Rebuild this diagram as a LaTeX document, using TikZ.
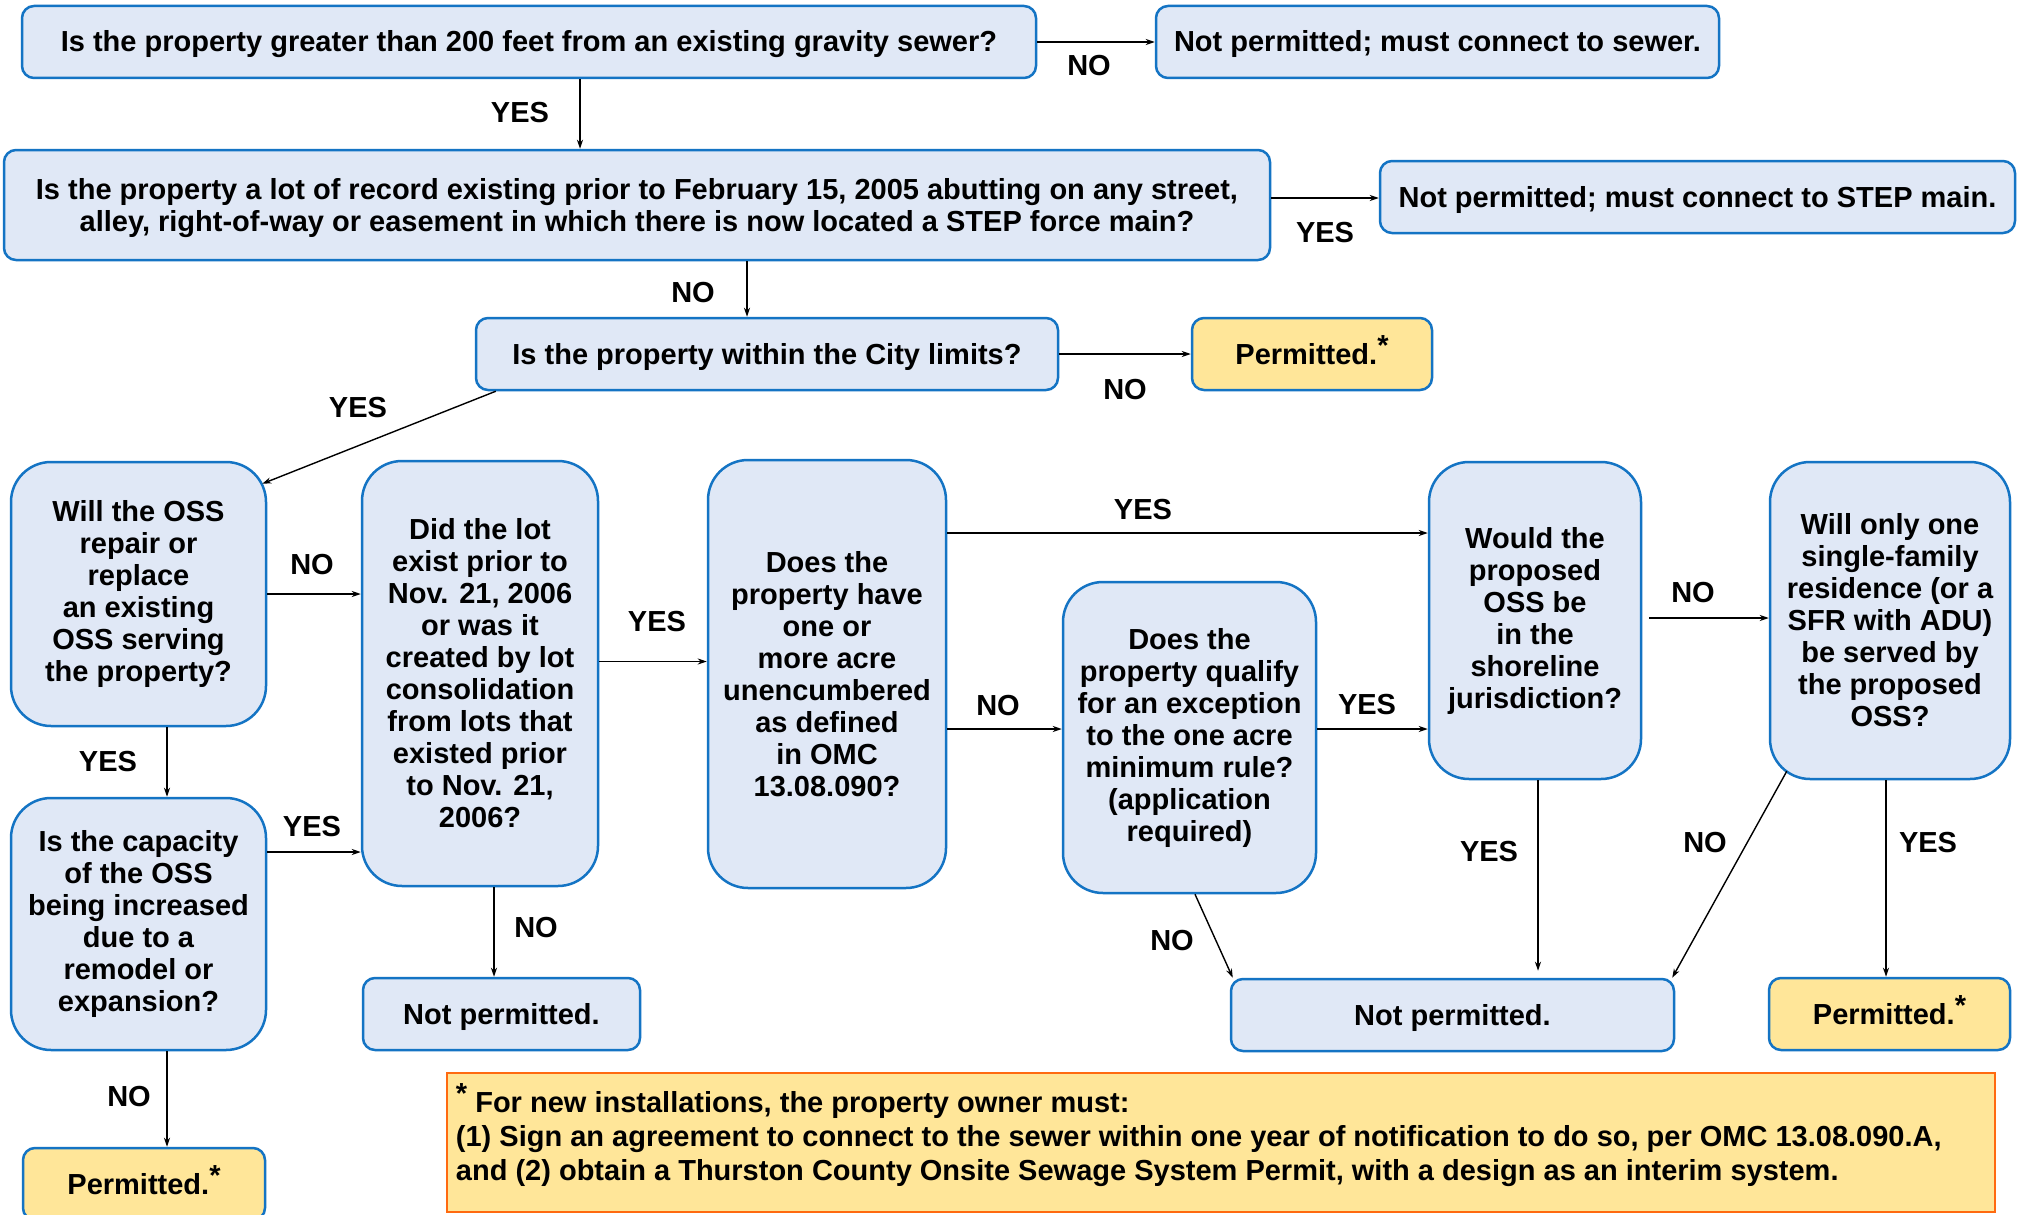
\documentclass[tikz,border=0pt]{standalone}
\usepackage{fontspec}
\setmainfont{Liberation Sans}
\usetikzlibrary{arrows.meta,calc}
\definecolor{bfill}{HTML}{E0E8F6}
\definecolor{bline}{HTML}{1474C4}
\definecolor{yfill}{HTML}{FFE699}
\definecolor{oline}{HTML}{FF6A10}
\newcommand{\myast}{\raisebox{0.3em}{*}}
\begin{document}
\begin{tikzpicture}[x=1pt,y=-1pt,
  every node/.style={font=\fontsize{29}{32}\selectfont\bfseries},
  qbox/.style={draw=bline,fill=bfill,line width=2.5pt,rounded corners=12pt,align=center,inner sep=0pt},
  onel/.style={text height=24pt,text depth=4pt},
  tallbox/.style={qbox,rounded corners=40pt},
  ybox/.style={qbox,fill=yfill},
  arr/.style={-{Stealth[length=9pt,width=6pt]},line width=1.4pt},
  lbl/.style={inner sep=0pt}]
\useasboundingbox[fill=white] (0,0) rectangle (2019,1215);

% top boxes
\node[qbox,onel,minimum width=1014pt,minimum height=72pt] (A) at (529,42) {Is the property greater than 200 feet from an existing gravity sewer?};
\node[qbox,onel,minimum width=563pt,minimum height=72pt] (B) at (1437.5,42) {Not permitted; must connect to sewer.};
\node[qbox,text height=56pt,text depth=4pt,minimum width=1266pt,minimum height=110pt] (C) at (637,205) {Is the property a lot of record existing prior to February 15, 2005 abutting on any street,\\alley, right-of-way or easement in which there is now located a STEP force main?};
\node[qbox,onel,minimum width=635pt,minimum height=72pt] (D) at (1697.5,197) {Not permitted; must connect to STEP main.};
\node[qbox,onel,minimum width=582pt,minimum height=72pt] (E) at (767,354) {Is the property within the City limits?};
\node[ybox,onel,minimum width=240pt,minimum height=72pt] (F) at (1312,354) {Permitted.\myast};

% tall boxes
\node[tallbox,minimum width=255pt,minimum height=264pt] (G) at (138.5,594) {Will the OSS\\repair or\\replace\\an existing\\OSS serving\\the property?};
\node[tallbox,minimum width=236pt,minimum height=425pt] (H) at (480,673.5) {Did the lot\\exist prior to\\Nov. 21, 2006\\or was it\\created by lot\\consolidation\\from lots that\\existed prior\\to Nov. 21,\\2006?};
\node[tallbox,minimum width=238pt,minimum height=428pt] (I) at (827,674) {Does the\\property have\\one or\\more acre\\unencumbered\\as defined\\in OMC\\13.08.090?};
\node[tallbox,minimum width=255pt,minimum height=252pt] (J) at (138.5,924) {Is the capacity\\of the OSS\\being increased\\due to a\\remodel or\\expansion?};
\node[qbox,onel,minimum width=277pt,minimum height=72pt] (K) at (501.5,1014) {Not permitted.};
\node[ybox,onel,minimum width=242pt,minimum height=72pt] (L) at (144,1184) {Permitted.\myast};
\node[tallbox,minimum width=253pt,minimum height=311pt] (M) at (1189.5,737.5) {Does the\\property qualify\\for an exception\\to the one acre\\minimum rule?\\(application\\required)};
\node[tallbox,minimum width=212pt,minimum height=317pt] (N) at (1535,620.5) {Would the\\proposed\\OSS be\\in the\\shoreline\\jurisdiction?};
\node[tallbox,minimum width=240pt,minimum height=317pt] (O) at (1890,620.5) {Will only one\\single-family\\residence (or a\\SFR with ADU)\\be served by\\the proposed\\OSS?};
\node[qbox,onel,minimum width=443pt,minimum height=72pt] (P) at (1452.5,1015) {Not permitted.};
\node[ybox,onel,minimum width=241pt,minimum height=72pt] (Q) at (1889.5,1014) {Permitted.\myast};

% footnote
\node[draw=oline,fill=yfill,line width=2.5pt,minimum width=1548pt,minimum height=139pt,inner sep=0pt] (foot) at (1221,1142.5) {};
\node[anchor=north west,align=left,inner sep=0pt,font=\fontsize{29}{34}\selectfont\bfseries] (foottext) at ([xshift=10,yshift=-12]foot.north west) {\raisebox{0.3em}{*}~For new installations, the property owner must:\\(1) Sign an agreement to connect to the sewer within one year of notification to do so, per OMC 13.08.090.A,\\and (2) obtain a Thurston County Onsite Sewage System Permit, with a design as an interim system.};

% connectors
\draw[arr] (A.east) -- (B.west);
\node[lbl] (l1) at (1089,66) {NO};
\draw[arr] ([xshift=51]A.south) -- ([xshift=51]A.south |- C.north);
\node[lbl] (l2) at (520,113) {YES};
\draw[arr] ([yshift=7]C.east) -- ([yshift=7]C.east -| D.west);
\node[lbl] (l3) at (1325,233) {YES};
\draw[arr] ([xshift=110]C.south) -- ([xshift=110]C.south |- E.north);
\node[lbl] (l4) at (693,293) {NO};
\draw[arr] (E.east) -- (F.west);
\node[lbl] (l5) at (1125,390) {NO};
\draw[arr] ([xshift=21]E.south west) -- ([xshift=-5,yshift=-23]G.north east);
\node[lbl] (l6) at (358,408) {YES};
\draw[arr] (G.east) -- (G.east -| H.west);
\node[lbl] (l7) at (312,565) {NO};
\draw[arr] ([yshift=12]H.east) -- ([yshift=12]H.east -| I.west);
\node[lbl] (l8) at (657,622) {YES};
\draw[arr] ([xshift=28.5]G.south) -- ([xshift=28.5]G.south |- J.north);
\node[lbl] (l9) at (108,762) {YES};
\draw[arr] ([yshift=72]J.east) -- ([yshift=72]J.east -| H.west);
\node[lbl] (l10) at (312,827) {YES};
\draw[arr] ([xshift=14]H.south) -- ([xshift=14]H.south |- K.north);
\node[lbl] (l11) at (536,928) {NO};
\draw[arr] ([xshift=28.5]J.south) -- ([xshift=28.5]J.south |- L.north);
\node[lbl] (l12) at (129,1097) {NO};
\draw[arr] ([yshift=141]I.east) -- ([yshift=141]I.east -| N.west);
\node[lbl] (l13) at (1143,510) {YES};
\draw[arr] ([yshift=-55]I.east) -- ([yshift=-55]I.east -| M.west);
\node[lbl] (l14) at (998,706) {NO};
\draw[arr] ([yshift=8.5]M.east) -- ([yshift=8.5]M.east -| N.west);
\node[lbl] (l15) at (1367,705) {YES};
\draw[arr] ([xshift=7,yshift=2.5]N.east) -- ([yshift=2.5]N.east -| O.west);
\node[lbl] (l16) at (1693,593) {NO};
\draw[arr] ([xshift=3]N.south) -- ([xshift=3,yshift=7]N.south |- P.north);
\node[lbl] (l17) at (1489,852) {YES};
\draw[arr] ([xshift=18,yshift=9]O.south west) -- ([xshift=-3]P.north east);
\node[lbl] (l18) at (1705,843) {NO};
\draw[arr] ([xshift=-4]O.south) -- ([xshift=-4]O.south |- Q.north);
\node[lbl] (l19) at (1928,843) {YES};
\draw[arr] ([xshift=5.5]M.south) -- ([xshift=3]P.north west);
\node[lbl] (l20) at (1172,941) {NO};
\end{tikzpicture}
\end{document}
